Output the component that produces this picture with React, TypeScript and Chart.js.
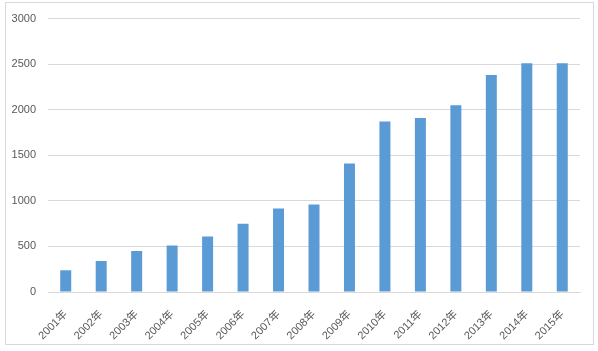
import React, { useEffect, useRef } from "react";
import { Chart, registerables } from "chart.js";

Chart.register(...registerables);

const categories = ["2001年","2002年","2003年","2004年","2005年","2006年","2007年","2008年","2009年","2010年","2011年","2012年","2013年","2014年","2015年"];
const values = [240, 340, 450, 510, 610, 750, 915, 960, 1410, 1870, 1910, 2050, 2380, 2510, 2510];
const yTicks = [0, 500, 1000, 1500, 2000, 2500, 3000];

export default function App() {
  const ref = useRef<HTMLCanvasElement>(null);
  useEffect(() => {
    document.body.style.margin = "0";
    const font = { family: "'Liberation Sans', 'Noto Sans CJK SC', sans-serif", size: 11 };
    const chart = new Chart(ref.current!, {
      type: "bar",
      data: {
        labels: categories,
        datasets: [{ data: values, backgroundColor: "#5B9BD5", barPercentage: 0.31, categoryPercentage: 1 }],
      },
      options: {
        animation: false,
        responsive: false,
        maintainAspectRatio: false,
        layout: { padding: { left: 0, top: 16, right: 18, bottom: 0 } },
        plugins: { legend: { display: false }, tooltip: { enabled: false } },
        scales: {
          x: {
            grid: { display: false },
            border: { color: "#D9D9D9" },
            ticks: { color: "#595959", font, minRotation: 45, maxRotation: 45, padding: 8, autoSkip: false },
            afterFit: (s: any) => { s.height = 59; },
          },
          y: {
            min: 0,
            max: 3000,
            afterBuildTicks: (s: any) => { s.ticks = yTicks.map((v) => ({ value: v })); },
            grid: { color: "#D9D9D9", drawTicks: false },
            border: { display: false },
            ticks: { color: "#595959", font, padding: 12, callback: (v: any) => String(v) },
            afterFit: (s: any) => { s.width = 48; },
          },
        },
      },
    });
    return () => chart.destroy();
  }, []);
  return (
    <div style={{ position: "absolute", left: 0, top: 0, width: 598, height: 351 }}>
      <div style={{ position: "absolute", left: 5, top: 2, width: 587, height: 341, border: "1px solid #D9D9D9" }} />
      <canvas ref={ref} width={598} height={351} style={{ position: "absolute", left: 0, top: 0 }} />
    </div>
  );
}
